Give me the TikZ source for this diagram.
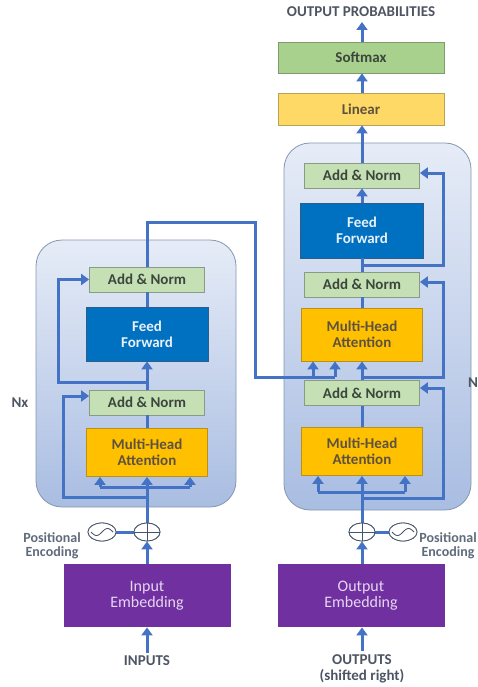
\documentclass[tikz,border=0pt]{standalone}
\usepackage{fontspec}
\setmainfont{Carlito}
\usetikzlibrary{arrows.meta,shapes.geometric}

\definecolor{flow}{HTML}{4472C4}
\definecolor{stacktop}{HTML}{E6ECF7}
\definecolor{stackbot}{HTML}{A9BDE2}
\definecolor{stackline}{HTML}{8497B0}
\definecolor{anfill}{HTML}{C5E0B4}
\definecolor{anline}{HTML}{8A9A84}
\definecolor{antext}{HTML}{3C463C}
\definecolor{fffill}{HTML}{0070C0}
\definecolor{ffline}{HTML}{2E5D8A}
\definecolor{fftext}{HTML}{E8F0F8}
\definecolor{mhafill}{HTML}{FFC000}
\definecolor{mhaline}{HTML}{B8901A}
\definecolor{mhatext}{HTML}{5E5140}
\definecolor{linfill}{HTML}{FFD966}
\definecolor{linline}{HTML}{B8A25A}
\definecolor{smfill}{HTML}{A9D18E}
\definecolor{smline}{HTML}{7E9C6C}
\definecolor{embfill}{HTML}{7030A0}
\definecolor{embtext}{HTML}{E6D6F2}
\definecolor{labeltext}{HTML}{4D5563}
\definecolor{petext}{HTML}{5F6B7A}
\definecolor{ringline}{HTML}{44546A}

\tikzset{
  block/.style={draw, line width=0.8pt, inner sep=0pt, align=center,
    font=\fontsize{15}{16}\selectfont\bfseries},
  addnorm/.style={block, fill=anfill, draw=anline, text=antext,
    minimum width=115, minimum height=25},
  feedfwd/.style={block, fill=fffill, draw=ffline, text=fftext,
    minimum width=122, minimum height=54},
  attn/.style={block, fill=mhafill, draw=mhaline, text=mhatext,
    minimum width=121, minimum height=48},
  embed/.style={block, draw=none, fill=embfill, text=embtext,
    minimum width=167, minimum height=63,
    font=\fontsize{16}{16}\selectfont},
  stack/.style={draw=stackline, line width=0.8pt, rounded corners=26pt,
    top color=stacktop, bottom color=stackbot},
  flowline/.style={draw=flow, line width=3pt},
  flowarrow/.style={flowline, -{Triangle[width=11pt,length=8pt]}},
  ring/.style={ellipse, draw=ringline, line width=0.8pt, fill=white,
    minimum width=26, minimum height=18, inner sep=0pt},
  lbl/.style={text=labeltext, align=center,
    font=\fontsize{15}{16}\selectfont\bfseries},
  pelbl/.style={text=petext, align=center,
    font=\fontsize{14}{14}\selectfont\bfseries},
}

\begin{document}
\begin{tikzpicture}[x=1pt,y=-1pt]
\useasboundingbox (0,0) rectangle (477,687);

% encoder and decoder stacks
\path[stack] (36,240) rectangle (236,507);
\path[stack] (284,143) rectangle (471,510);

% ---------- encoder ----------
\node[addnorm] (encAN2) at (147,279.5) {Add \& Norm};
\node[feedfwd] (encFF)  at (147,334) {Feed\\Forward};
\node[addnorm] (encAN1) at (147,402.5) {Add \& Norm};
\node[attn]    (encMHA) at (147,452.5) {Multi-Head\\Attention};

\node[ring] (encPlus) at (147,532) {};
\node[ring, minimum width=28] (encSine) at (102,532) {};
\node[embed] (encEmb) at (147,595.5) {Input\\Embedding};
\node[lbl] (inputs) at (147,661) {INPUTS};
\node[pelbl] (encPE) at (52,546) {Positional\\Encoding};
\node[lbl] (nx) at (20,403) {Nx};

% ---------- decoder ----------
\node[addnorm] (decAN3)  at (362,175.5) {Add \& Norm};
\node[feedfwd, minimum width=123, minimum height=55] (decFF) at (362,230.5) {Feed\\Forward};
\node[addnorm] (decAN2)  at (362,284.5) {Add \& Norm};
\node[attn, minimum height=53] (decMHA2) at (362,334.5) {Multi-Head\\Attention};
\node[addnorm] (decAN1)  at (362,393) {Add \& Norm};
\node[attn]    (decMHA1) at (362,451.5) {Multi-Head\\Attention};

\node[block, fill=linfill, draw=linline, text=mhatext,
      minimum width=166, minimum height=32] (linear) at (361,109) {Linear};
\node[block, fill=smfill, draw=smline, text=antext,
      minimum width=166, minimum height=31] (softmax) at (361,57.5) {Softmax};
\node[lbl] (outprob) at (361,12) {OUTPUT PROBABILITIES};

\node[ring] (decPlus) at (362,532) {};
\node[ring, minimum width=28] (decSine) at (403,532) {};
\node[embed] (decEmb) at (361,595.5) {Output\\Embedding};
\node[lbl] (outputs) at (362,669) {OUTPUTS\\(shifted right)};
\node[pelbl] (decPE) at (448,546) {Positional\\Encoding};
\node[lbl] (nn) at (473,383) {N};

% ---------- routing points ----------
\coordinate (eSplit) at (147,497);
\coordinate (eFanL)  at (100,487);
\coordinate (eFanR)  at (190,487);
\coordinate (eRes1)  at (63,497);
\coordinate (eRes1t) at (63,396);
\coordinate (eMid)   at (147,382);
\coordinate (eRes2)  at (58,382);
\coordinate (eRes2t) at (58,279.5);
\coordinate (eOut)   at (147,222);
\coordinate (eOutR)  at (255,222);
\coordinate (eOutD)  at (255,377);
\coordinate (kvA)    at (313,377);
\coordinate (kvB)    at (335,377);

\coordinate (dSplit) at (362,498);
\coordinate (dFanL)  at (318,492);
\coordinate (dFanR)  at (405,492);
\coordinate (dRes1)  at (443,498);
\coordinate (dRes1t) at (443,388);
\coordinate (dMid)   at (362,377);
\coordinate (dRes2)  at (443,377);
\coordinate (dRes2t) at (443,282);
\coordinate (dTop)   at (362,265);
\coordinate (dRes3)  at (443,265);
\coordinate (dRes3t) at (443,173);
\coordinate (probTip) at (361,22);

% ---------- encoder connectors ----------
\draw[flowarrow] (inputs.north) -- (encEmb.south);
\draw[flowarrow] (encEmb.north) -- (encPlus.south);
\draw[flowline] (encSine.east) -- (encPlus.west);
\draw[flowarrow] (encPlus.north) -- (encMHA.south);
\draw[flowline] (eFanL) -- (eFanR);
\draw[flowarrow] (eFanL) -- (eFanL |- encMHA.south);
\draw[flowarrow] (eFanR) -- (eFanR |- encMHA.south);
\draw[flowarrow] (eSplit) -- (eRes1) -- (eRes1t) -- (eRes1t -| encAN1.west);
\draw[flowline] (encMHA.north) -- (encAN1.south);
\draw[flowarrow] (encAN1.north) -- (encFF.south);
\draw[flowarrow] (eMid) -- (eRes2) -- (eRes2t) -- (encAN2.west);
\draw[flowline] (encFF.north) -- (encAN2.south);
\draw[flowline] (encAN2.north) -- (eOut) -- (eOutR) -- (eOutD) -- (kvB);
\draw[flowarrow] (kvA) -- (kvA |- decMHA2.south);
\draw[flowarrow] (kvB) -- (kvB |- decMHA2.south);

% ---------- decoder connectors ----------
\draw[flowarrow] (outputs.north) -- (decEmb.south -| outputs.north);
\draw[flowarrow] (decEmb.north -| decPlus.south) -- (decPlus.south);
\draw[flowline] (decSine.west) -- (decPlus.east);
\draw[flowarrow] (decPlus.north) -- (decMHA1.south);
\draw[flowline] (dFanL) -- (dFanR);
\draw[flowarrow] (dFanL) -- (dFanL |- decMHA1.south);
\draw[flowarrow] (dFanR) -- (dFanR |- decMHA1.south);
\draw[flowarrow] (dSplit) -- (dRes1) -- (dRes1t) -- (dRes1t -| decAN1.east);
\draw[flowline] (decMHA1.north) -- (decAN1.south);
\draw[flowarrow] (decAN1.north) -- (decMHA2.south);
\draw[flowarrow] (dMid) -- (dRes2) -- (dRes2t) -- (dRes2t -| decAN2.east);
\draw[flowline] (decMHA2.north) -- (decAN2.south);
\draw[flowline] (decAN2.north) -- (decFF.south);
\draw[flowarrow] (dTop) -- (dRes3) -- (dRes3t) -- (dRes3t -| decAN3.east);
\draw[flowarrow] (decFF.north) -- (decAN3.south);
\draw[flowarrow] (decAN3.north) -- (decAN3.north |- linear.south);
\draw[flowarrow] (linear.north -| decAN3.north) -- (decAN3.north |- softmax.south);
\draw[flowarrow] (softmax.north -| decAN3.north) -- (decAN3.north |- probTip);

% ---------- adders and positional-encoding rings ----------
\foreach \r in {encPlus,decPlus}{
  \node[ring] at (\r) {};
  \draw[ringline, line width=0.8pt] (\r.west) -- (\r.east) (\r.north) -- (\r.south);
}
\foreach \r in {encSine,decSine}{
  \node[ring, minimum width=28] at (\r) {};
  \begin{scope}[shift={(\r)}]
    \draw[ringline, line width=0.8pt, domain=-11:11, samples=40, smooth]
      plot ({\x}, {-3.5*sin(\x*180/11)});
  \end{scope}
}
\end{tikzpicture}
\end{document}
